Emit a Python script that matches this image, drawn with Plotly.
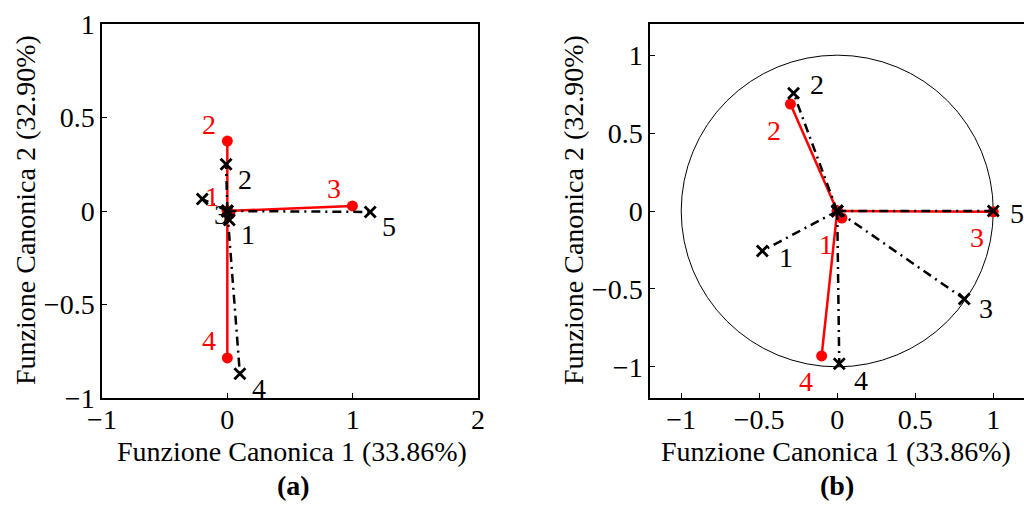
import plotly.graph_objects as go

# Canonical loadings, panel (a)
a_red_labels = ["1", "2", "3", "4"]
a_red_x = [0.02, 0.0, 0.998, 0.0]
a_red_y = [-0.016, 0.374, 0.027, -0.786]
a_black_labels = ["1", "2", "3", "4", "5"]
a_black_x = [0.016, -0.01, -0.20, 0.10, 1.14]
a_black_y = [-0.048, 0.25, 0.064, -0.87, -0.005]

# Canonical loadings, panel (b)
b_red_labels = ["1", "2", "3", "4"]
b_red_x = [0.03, -0.30, 1.0, -0.10]
b_red_y = [-0.045, 0.686, -0.005, -0.93]
b_black_labels = ["1", "2", "3", "4", "5"]
b_black_x = [-0.48, -0.28, 0.814, 0.013, 1.0]
b_black_y = [-0.256, 0.756, -0.564, -0.98, 0.0]

x_title = "Funzione Canonica 1 (33.86%)"
y_title = "Funzione Canonica 2 (32.90%)"

FONT = "Liberation Serif"
RED = "#ff0000"
BLACK = "#000000"

# label pixel offsets (dx right, dy down)
a_red_off = [(-18, -17)] * 4
a_black_off = [(19, 15)] * 5
b_red_off = [(-16, 26)] * 4
b_black_off = [(24, 7), (23, -9), (22, 10), (22, 17), (24, 2)]


def spokes(xs, ys):
    """Segments from the origin to each point, markers at both ends."""
    px, py = [], []
    for x, y in zip(xs, ys):
        px += [0, x, None]
        py += [0, y, None]
    return px, py


fig = go.Figure()


def add_panel(xref, yref, rx, ry, bx, by):
    px, py = spokes(rx, ry)
    fig.add_trace(go.Scatter(
        x=px, y=py, xaxis=xref, yaxis=yref, mode="lines+markers",
        line=dict(color=RED, width=2.5),
        marker=dict(symbol="circle", size=11, color=RED),
        cliponaxis=False, hoverinfo="skip"))
    px, py = spokes(bx, by)
    fig.add_trace(go.Scatter(
        x=px, y=py, xaxis=xref, yaxis=yref, mode="lines+markers",
        line=dict(color=BLACK, width=2.5, dash="9px,5px,2px,5px"),
        marker=dict(symbol="x-thin-open", size=11, color=BLACK,
                    line=dict(width=2.8, color=BLACK)),
        cliponaxis=False, hoverinfo="skip"))


add_panel("x", "y", a_red_x, a_red_y, a_black_x, a_black_y)
add_panel("x2", "y2", b_red_x, b_red_y, b_black_x, b_black_y)

annotations = []


def add_labels(xref, yref, xs, ys, labels, offs, color):
    for x, y, t, (dx, dy) in zip(xs, ys, labels, offs):
        annotations.append(dict(
            x=x, y=y, xref=xref, yref=yref, text=t, showarrow=False,
            xshift=dx, yshift=-dy, xanchor="center", yanchor="middle",
            font=dict(family=FONT, size=28, color=color)))


add_labels("x", "y", a_red_x, a_red_y, a_red_labels, a_red_off, RED)
add_labels("x", "y", a_black_x, a_black_y, a_black_labels, a_black_off, BLACK)
add_labels("x2", "y2", b_red_x, b_red_y, b_red_labels, b_red_off, RED)
add_labels("x2", "y2", b_black_x, b_black_y, b_black_labels, b_black_off, BLACK)

W, H = 1024, 525


def paper(px, py):
    return px / W, (H - py) / H


# axis titles and panel captions
for cx, cap in [(292, "<b>(a)</b>"), (836, "<b>(b)</b>")]:
    xx, yy = paper(cx, 451)
    annotations.append(dict(x=xx, y=yy, xref="paper", yref="paper", text=x_title,
                            showarrow=False, xanchor="center", yanchor="middle",
                            font=dict(family=FONT, size=28, color=BLACK)))
    xx, yy = paper(cx + 1, 485)
    annotations.append(dict(x=xx, y=yy, xref="paper", yref="paper", text=cap,
                            showarrow=False, xanchor="center", yanchor="middle",
                            font=dict(family=FONT, size=28, color=BLACK)))
for cx in [25, 573]:
    xx, yy = paper(cx, 210)
    annotations.append(dict(x=xx, y=yy, xref="paper", yref="paper", text=y_title,
                            showarrow=False, textangle=-90, xanchor="center",
                            yanchor="middle",
                            font=dict(family=FONT, size=28, color=BLACK)))

axis_common = dict(
    showline=True, linecolor=BLACK, linewidth=1.5, mirror=True,
    ticks="inside", ticklen=5, tickwidth=1, tickcolor=BLACK,
    showgrid=False, zeroline=False, automargin=False,
    tickfont=dict(family=FONT, size=28, color=BLACK),
)

y_dom = [(H - 398) / H, (H - 24) / H]

fig.update_layout(
    width=W, height=H,
    margin=dict(l=0, r=0, t=0, b=0),
    paper_bgcolor="white", plot_bgcolor="white",
    showlegend=False,
    xaxis=dict(domain=[102 / W, 478 / W], range=[-1, 2],
               tickvals=[-1, 0, 1, 2], anchor="y", ticklabelstandoff=-4,
               **axis_common),
    yaxis=dict(domain=y_dom, range=[-1, 1],
               tickvals=[-1, -0.5, 0, 0.5, 1], anchor="x", **axis_common),
    xaxis2=dict(domain=[650 / W, 1.0], range=[-1.2, 1.197],
                tickvals=[-1, -0.5, 0, 0.5, 1], anchor="y2", ticklabelstandoff=-4,
                **axis_common),
    yaxis2=dict(domain=y_dom, range=[-1.2, 1.2],
                tickvals=[-1, -0.5, 0, 0.5, 1], anchor="x2", **axis_common),
    annotations=annotations,
    shapes=[dict(type="circle", xref="x2", yref="y2", x0=-1, y0=-1, x1=1, y1=1,
                 line=dict(color=BLACK, width=1), layer="below")],
)

fig.write_html("out.html")
